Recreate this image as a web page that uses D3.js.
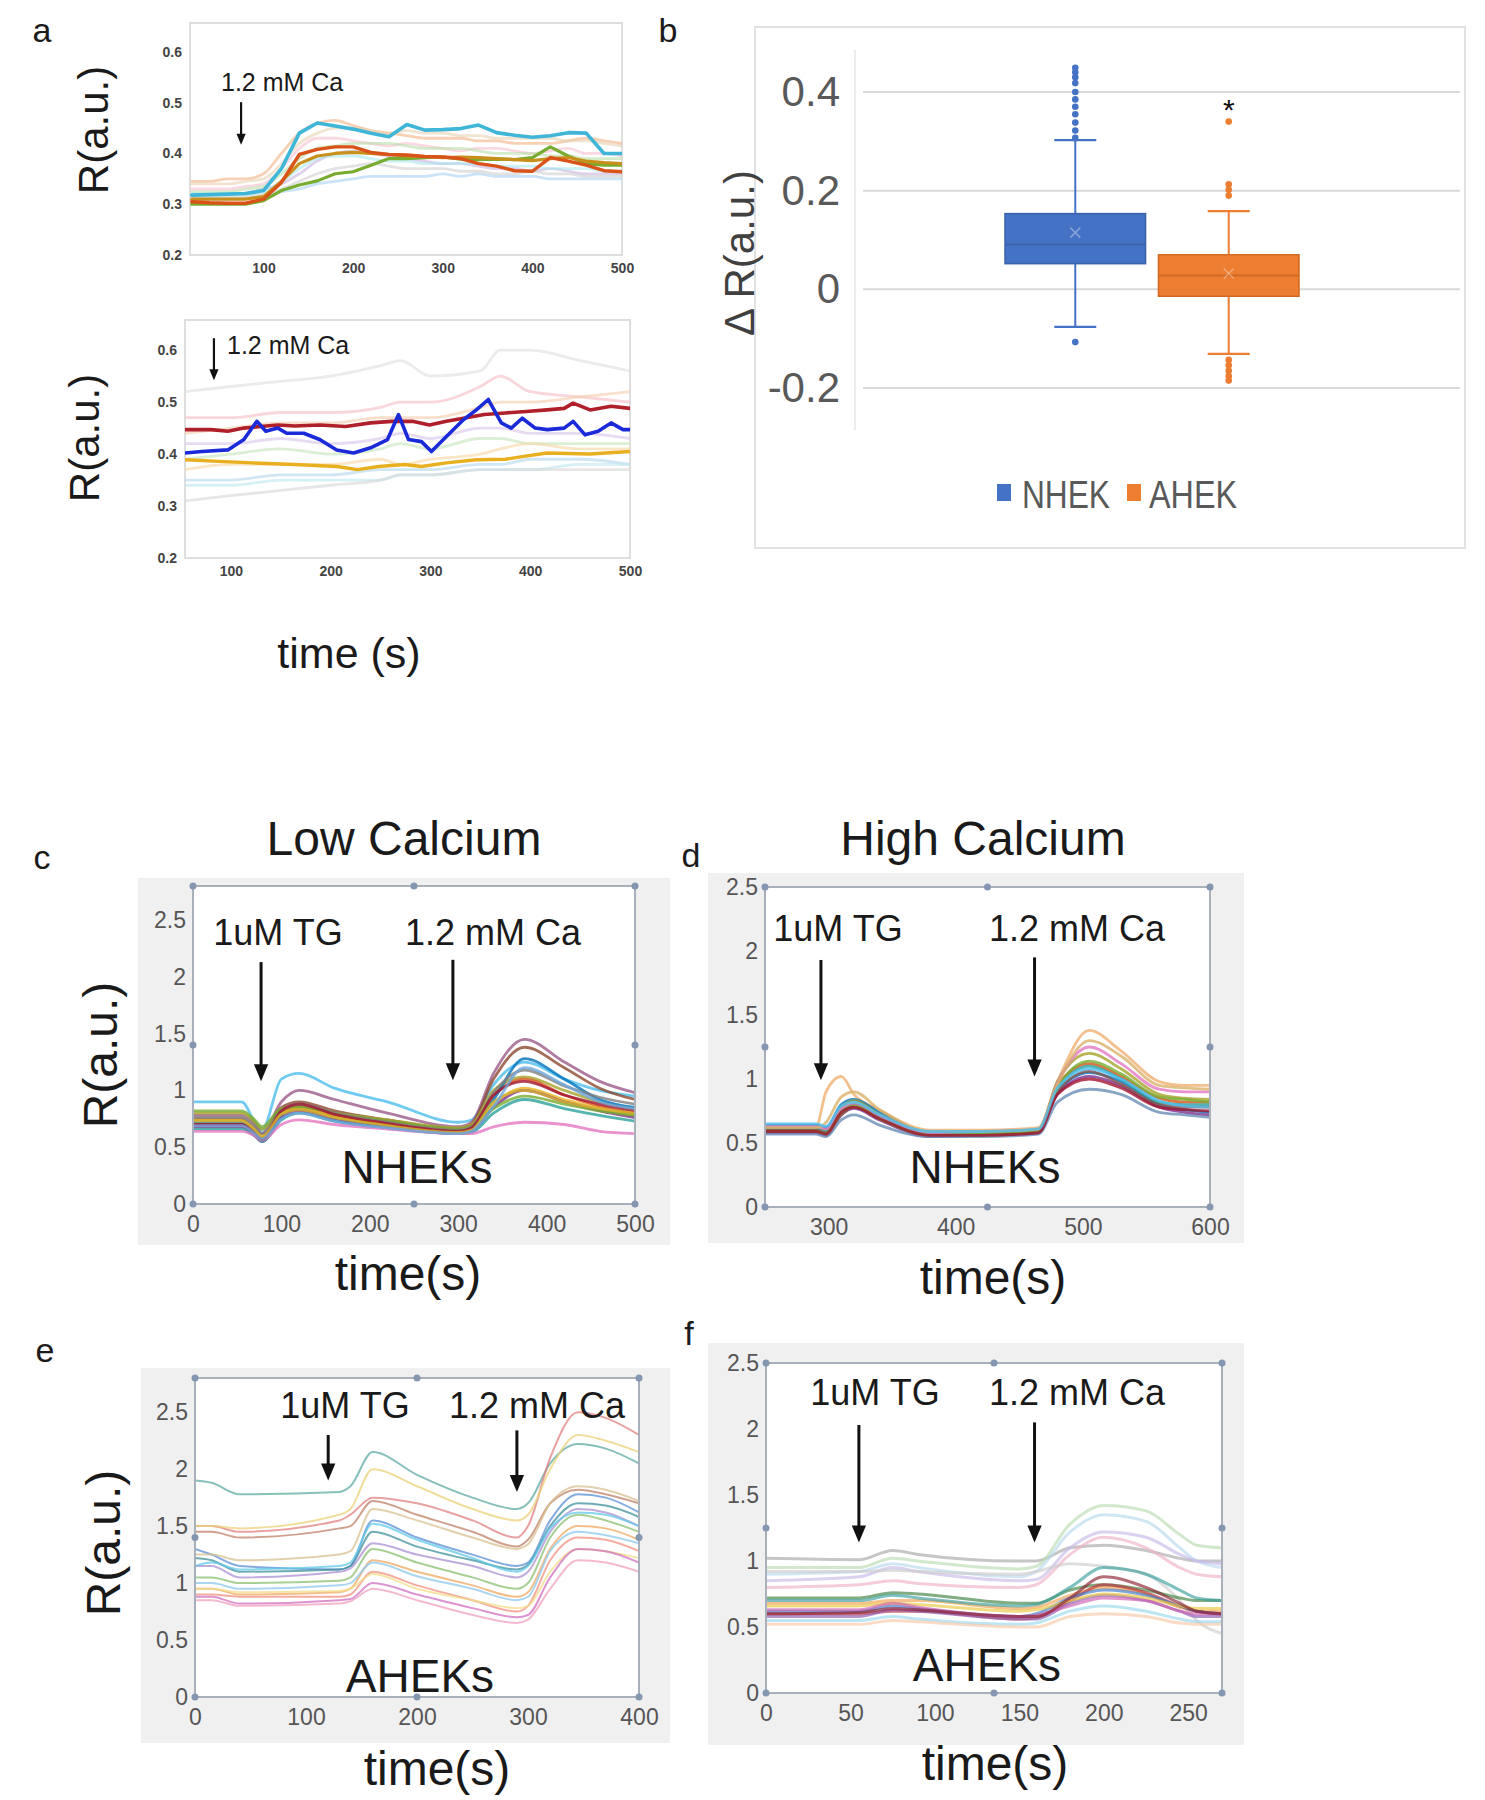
<!DOCTYPE html>
<html><head><meta charset="utf-8">
<script src="https://cdn.jsdelivr.net/npm/d3@7"></script>
<style>body{margin:0;background:#fff;} svg{display:block;}</style>
</head><body><svg id="fig" width="1485" height="1800"></svg>
<script>
// ================= DATA =================
// Panel a (top): NHEK traces, time grid
const aTopTime = [20,40,60,80,100,120,140,160,180,200,220,240,260,280,300,320,340,360,380,400,420,440,460,480,500];
const aTopCyan  = [.318,.319,.320,.321,.327,.37,.44,.46,.454,.448,.44,.433,.457,.446,.447,.449,.456,.441,.436,.432,.435,.441,.44,.40,.40];
const aTopRed   = [.305,.303,.302,.302,.31,.343,.398,.408,.413,.413,.402,.398,.397,.394,.393,.39,.38,.375,.366,.365,.392,.385,.377,.366,.364];
const aTopGreen = [.30,.30,.30,.30,.307,.327,.338,.346,.36,.364,.377,.39,.39,.392,.393,.389,.388,.389,.388,.392,.413,.395,.38,.377,.377];
const aTopBrown = [.31,.31,.31,.31,.315,.345,.38,.395,.40,.402,.40,.398,.395,.394,.392,.393,.392,.39,.388,.386,.39,.392,.385,.382,.38];
const aTopFaint1 = [.345,.345,.35,.35,.36,.40,.44,.46,.465,.455,.445,.44,.435,.43,.43,.43,.425,.425,.42,.42,.42,.425,.43,.425,.42];
const aTopFaint2 = [.33,.33,.33,.335,.34,.37,.41,.43,.43,.425,.42,.415,.42,.415,.41,.405,.41,.41,.405,.40,.405,.41,.40,.40,.395];
const aTopFaint3 = [.32,.32,.32,.322,.33,.34,.36,.385,.40,.405,.40,.395,.39,.385,.38,.38,.375,.37,.37,.365,.37,.365,.36,.36,.36];
const aTopFaint4 = [.31,.31,.31,.312,.315,.325,.33,.34,.345,.35,.355,.355,.355,.355,.36,.355,.36,.355,.355,.355,.35,.35,.35,.35,.35];
const aTopFaint5 = [.325,.325,.325,.33,.335,.36,.39,.41,.415,.42,.42,.42,.415,.41,.41,.41,.405,.40,.40,.40,.395,.395,.39,.39,.39];
const aTopFaint6 = [.34,.34,.34,.345,.35,.38,.42,.44,.45,.45,.445,.44,.445,.44,.44,.435,.435,.43,.43,.43,.43,.425,.425,.42,.415];
const aTopFaint7 = [.315,.315,.315,.315,.32,.33,.345,.36,.37,.375,.38,.375,.37,.37,.37,.365,.365,.36,.36,.365,.36,.36,.355,.355,.355];
const aTopFaint8 = [.32,.32,.32,.32,.325,.345,.37,.39,.395,.395,.39,.385,.385,.38,.38,.38,.38,.375,.375,.375,.37,.37,.37,.365,.365];
const aXTicks = [100,200,300,400,500];
const aYTicks = [0.2,0.3,0.4,0.5,0.6];

// Panel a (bottom): AHEK traces
const aBotBlueT = [54,71,97,113,126,135,147,156,173,189,206,223,240,257,268,278,291,301,316,333,346,358,371,381,392,405,417,434,443,455,468,481,493,500];
const aBotBlueV = [.402,.405,.408,.428,.463,.444,.45,.44,.44,.428,.408,.402,.412,.428,.476,.428,.424,.405,.434,.466,.485,.505,.46,.45,.469,.45,.447,.45,.463,.437,.444,.46,.447,.447];
const aBotRedT = [54,80,97,113,130,147,164,189,215,240,261,282,299,316,333,354,375,396,417,434,443,460,481,500];
const aBotRedV = [.447,.447,.444,.45,.453,.456,.454,.456,.453,.46,.463,.463,.456,.463,.469,.476,.479,.482,.485,.488,.498,.485,.492,.488];
const aBotYellowT = [54,88,122,164,206,227,248,274,291,316,346,375,392,417,460,500];
const aBotYellowV = [.389,.386,.383,.38,.376,.37,.376,.38,.376,.383,.389,.39,.395,.402,.40,.405];
const aBotTime = [54,100,150,200,250,270,300,350,370,400,450,500];
const aBotFaint1 = [.52,.53,.54,.55,.57,.58,.55,.56,.60,.60,.58,.56];
const aBotFaint2 = [.47,.47,.48,.48,.49,.50,.50,.53,.55,.52,.51,.50];
const aBotFaint3 = [.44,.45,.46,.46,.47,.47,.47,.49,.50,.50,.51,.52];
const aBotFaint4 = [.42,.42,.43,.42,.43,.44,.43,.45,.45,.44,.44,.43];
const aBotFaint5 = [.39,.40,.41,.40,.41,.42,.41,.43,.43,.42,.42,.42];
const aBotFaint6 = [.35,.35,.36,.36,.37,.37,.37,.38,.38,.39,.39,.38];
const aBotFaint7 = [.34,.34,.35,.35,.35,.36,.36,.37,.37,.37,.38,.38];
const aBotFaint8 = [.31,.32,.33,.34,.35,.36,.36,.37,.37,.37,.37,.37];
const aBotFaint9 = [.37,.38,.38,.38,.39,.38,.39,.40,.41,.42,.41,.41];

// Panel b: box plot of ΔR
const bCats = ["NHEK","AHEK"];
const bQ1 = [0.052, -0.014];
const bMedian = [0.091, 0.028];
const bQ3 = [0.1535, 0.070];
const bMean = [0.115, 0.032];
const bWhiskLow = [-0.076, -0.131];
const bWhiskHigh = [0.3025, 0.1585];
const bOutNHEK = [0.449,0.44,0.43,0.418,0.40,0.385,0.37,0.355,0.338,0.322,0.307,-0.107];
const bOutAHEK = [0.34,0.213,0.202,0.19,-0.143,-0.154,-0.165,-0.176,-0.185];
const bStarValue = 0.378;
const bTicks = [-0.2,0,0.2,0.4];

// Panel c: Low calcium NHEKs
const cTime = [0,55,70,78,100,120,160,220,300,315,340,375,420,460,500];
const cS1  = [.90,.90,.72,.65,1.10,1.15,1.02,.90,.72,.74,1.05,1.25,1.10,1.0,.95];
const cS2  = [.78,.78,.70,.62,.90,1.0,.92,.80,.68,.72,1.15,1.45,1.25,1.08,.98];
const cS3  = [.75,.75,.65,.58,.85,.90,.82,.74,.66,.70,1.10,1.38,1.20,1.02,.92];
const cS4  = [.80,.80,.72,.66,.80,.85,.80,.74,.67,.70,1.0,1.12,1.0,.90,.84];
const cS5  = [.70,.70,.62,.56,.80,.86,.78,.70,.64,.66,.95,1.10,.96,.86,.80];
const cS6  = [.72,.72,.64,.58,.78,.84,.76,.69,.63,.66,.92,1.28,1.10,.92,.85];
const cS7  = [.74,.74,.66,.60,.80,.84,.77,.70,.64,.66,.88,1.02,.92,.84,.78];
const cS8  = [.68,.68,.60,.55,.76,.82,.74,.68,.62,.64,.85,1.00,.90,.82,.76];
const cS9  = [.82,.82,.74,.68,.84,.86,.80,.73,.66,.68,.84,.95,.88,.82,.78];
const cS10 = [.66,.66,.60,.55,.74,.80,.73,.67,.62,.63,.80,.92,.84,.78,.73];
const cS11 = [.64,.64,.60,.56,.70,.74,.70,.66,.62,.62,.68,.72,.70,.64,.62];
const cS12 = [.76,.76,.68,.62,.82,.88,.80,.72,.65,.68,.98,1.18,1.04,.94,.88];
const cS13 = [.70,.70,.63,.57,.82,.88,.79,.71,.64,.67,.96,1.08,.96,.88,.82];
const cS14 = [.73,.73,.65,.59,.79,.83,.76,.69,.63,.65,.90,1.0,.90,.84,.80];
const cS15 = [.69,.69,.62,.57,.75,.80,.73,.67,.62,.64,.86,1.2,1.05,.90,.84];
const cXTicks = [0,100,200,300,400,500];
const cYTicks = [0,0.5,1,1.5,2,2.5];

// Panel d: High calcium NHEKs
const dTime = [250,290,298,310,320,340,380,420,465,480,505,530,560,580,600];
const dS1  = [.62,.62,.90,1.02,.88,.76,.60,.60,.62,.98,1.38,1.22,.98,.95,.95];
const dS2  = [.60,.60,.58,.74,.80,.70,.56,.57,.59,.95,1.12,1.02,.85,.82,.82];
const dS3  = [.64,.64,.62,.80,.84,.74,.58,.58,.60,.90,1.05,.98,.80,.76,.74];
const dS4  = [.62,.62,.60,.78,.83,.72,.58,.58,.60,.98,1.20,1.08,.88,.85,.84];
const dS5  = [.58,.58,.56,.72,.77,.68,.55,.56,.58,.88,1.02,.95,.78,.74,.72];
const dS6  = [.61,.61,.59,.75,.80,.70,.57,.57,.59,.92,1.10,1.0,.82,.80,.80];
const dS7  = [.60,.60,.58,.72,.78,.70,.56,.56,.58,.90,1.06,.96,.80,.78,.78];
const dS8  = [.63,.63,.61,.77,.80,.71,.58,.59,.60,.97,1.25,1.12,.92,.90,.90];
const dS9  = [.59,.59,.57,.74,.79,.69,.56,.57,.59,.93,1.14,1.04,.86,.84,.82];
const dS10 = [.57,.57,.55,.68,.72,.64,.55,.55,.57,.82,.92,.88,.74,.72,.70];
const dS11 = [.62,.62,.66,.86,.90,.76,.59,.59,.61,.96,1.30,1.18,.95,.93,.92];
const dS12 = [.59,.59,.57,.74,.78,.69,.56,.56,.58,.88,1.0,.93,.78,.76,.75];
const dS13 = [.65,.65,.63,.79,.82,.72,.59,.59,.61,.93,1.08,1.00,.83,.79,.78];
const dXTicks = [300,400,500,600];
const dYTicks = [0,0.5,1,1.5,2,2.5];

// Panel e: Low calcium AHEKs
const eTime = [0,15,40,130,140,160,200,250,290,300,320,345,370,400];
const eS1  = [1.90,1.88,1.78,1.80,1.85,2.15,1.95,1.75,1.65,1.70,2.05,2.22,2.18,2.05];
const eS2  = [1.50,1.50,1.45,1.55,1.60,1.75,1.70,1.55,1.40,1.50,2.10,2.50,2.45,2.30];
const eS3  = [1.50,1.50,1.48,1.60,1.65,2.00,1.85,1.65,1.55,1.60,2.00,2.30,2.25,2.15];
const eS4  = [1.45,1.45,1.40,1.48,1.50,1.72,1.60,1.45,1.32,1.38,1.70,1.82,1.78,1.70];
const eS5  = [1.30,1.25,1.15,1.12,1.15,1.55,1.40,1.25,1.15,1.18,1.55,1.78,1.75,1.62];
const eS6  = [1.22,1.20,1.10,1.12,1.15,1.45,1.32,1.20,1.12,1.16,1.50,1.70,1.68,1.58];
const eS7  = [1.15,1.15,1.05,1.10,1.13,1.35,1.25,1.15,1.05,1.10,1.45,1.65,1.62,1.50];
const eS8  = [1.05,1.05,1.00,1.02,1.05,1.30,1.18,1.05,.95,1.00,1.40,1.60,1.55,1.45];
const eS9  = [.95,.95,.90,.92,.95,1.20,1.10,.98,.88,.92,1.30,1.50,1.48,1.38];
const eS10 = [1.00,1.00,.95,.98,1.00,1.18,1.06,.95,.85,.88,1.28,1.45,1.42,1.35];
const eS11 = [.90,.90,.88,.88,.90,1.10,.98,.85,.75,.80,1.20,1.40,1.38,1.28];
const eS12 = [.95,.95,.92,.93,.95,1.08,.95,.85,.78,.80,1.10,1.30,1.28,1.22];
const eS13 = [.88,.88,.82,.85,.86,1.00,.90,.78,.70,.72,1.05,1.30,1.28,1.18];
const eS14 = [.85,.85,.80,.82,.84,.95,.85,.72,.65,.68,.95,1.20,1.18,1.10];
const eS15 = [1.15,1.18,1.12,1.15,1.18,1.52,1.38,1.22,1.10,1.15,1.48,1.62,1.60,1.50];
const eS16 = [1.25,1.25,1.20,1.25,1.28,1.65,1.55,1.40,1.30,1.34,1.70,1.85,1.82,1.72];
const eXTicks = [0,100,200,300,400];
const eYTicks = [0,0.5,1,1.5,2,2.5];

// Panel f: High calcium AHEKs
const fTime = [0,55,75,90,150,160,180,200,225,245,255,270];
const fS1  = [1.02,1.01,1.08,1.05,1.0,1.0,1.10,1.12,1.08,1.02,1.0,1.0];
const fS2  = [.95,.95,1.02,1.00,.94,.96,1.28,1.42,1.38,1.20,1.12,1.10];
const fS3  = [.90,.92,.98,.95,.88,.92,1.22,1.35,1.30,1.10,1.00,.95];
const fS4  = [.85,.88,.95,.92,.85,.86,1.10,1.22,1.18,1.05,1.00,.98];
const fS5  = [.80,.82,.85,.83,.80,.82,1.05,1.18,1.10,.95,.90,.88];
const fS6  = [.92,.92,.93,.92,.90,.92,.98,.96,.90,.70,.55,.45];
const fS7  = [.72,.72,.76,.75,.68,.68,.78,.82,.78,.72,.70,.70];
const fS8  = [.68,.68,.70,.70,.64,.65,.74,.80,.75,.65,.62,.62];
const fS9  = [.60,.60,.62,.62,.56,.57,.70,.82,.76,.66,.62,.60];
const fS10 = [.62,.62,.66,.64,.58,.60,.72,.78,.74,.66,.62,.60];
const fS11 = [.58,.58,.63,.62,.56,.56,.68,.74,.70,.62,.58,.58];
const fS12 = [.66,.66,.68,.67,.62,.63,.70,.75,.72,.66,.64,.64];
const fS13 = [.55,.55,.58,.56,.52,.53,.62,.66,.62,.56,.54,.54];
const fS14 = [.63,.63,.68,.65,.58,.59,.66,.72,.70,.62,.60,.60];
const fS15 = [.60,.61,.64,.63,.58,.58,.72,.88,.80,.68,.62,.60];
const fS16 = [.52,.52,.55,.54,.50,.50,.58,.60,.58,.53,.52,.52];
const fS17 = [.70,.70,.74,.72,.66,.67,.80,.95,.90,.78,.72,.70];
const fXTicks = [0,50,100,150,200,250];
const fYTicks = [0,0.5,1,1.5,2,2.5];

// ================= STYLE =================
const FONT = '"Liberation Sans", Arial, Helvetica, sans-serif';
const cColors = ["#4DBEEE","#9b5a8a","#8c4a2f","#a6a32a","#D95319","#0072BD","#EDB120","#7E2F8E","#77AC30","#2aa198","#e377c2","#7f7f7f","#A2142F","#d4b22a","#6fa8dc"];
const dColors = ["#f0b070","#D95319","#0072BD","#a6a32a","#7E2F8E","#2aa198","#8c564b","#e377c2","#77AC30","#6b8fb8","#d9b26a","#A2142F","#4DBEEE"];
const eColors = ["#5fa9a3","#e08080","#ecd27a","#c0806a","#5b8fd6","#3f8f9a","#a98fd0","#88c070","#f0a860","#8ec8ee","#f09080","#f2dc8a","#d070c0","#f0a0c0","#60c8e8","#d8c090"];
const fColors = ["#a8a8a8","#b8dcb0","#b8d8ee","#c8b8e8","#f0b0c8","#cccccc","#3f7f3f","#f0a050","#c0303a","#3c78c8","#8a5ab0","#e8c840","#9ad8f0","#d060b0","#8a2030","#f6c8a8","#3aa0a0"];

const svg = d3.select("#fig").attr("font-family", FONT);

function series(time, arrs, colors, w, op) {
  return arrs.map((v, i) => ({t: time, v: v, color: colors[i % colors.length], w: w, op: op}));
}
let clipCount = 0;
function drawLines(g, x, y, list, curve, clip) {
  const line = d3.line().x(d => x(d[0])).y(d => y(d[1])).curve(curve);
  const lg = g.append("g").attr("clip-path", `url(#${clip})`);
  list.forEach(s => {
    const pts = s.t.map((t, i) => [t, s.v[i]]);
    lg.append("path").attr("d", line(pts)).attr("fill", "none")
      .attr("stroke", s.color).attr("stroke-width", s.w).attr("stroke-opacity", s.op)
      .attr("stroke-linejoin", "round").attr("stroke-linecap", "round");
  });
}
function makeClip(L, T, R, B) {
  const id = "clip" + (clipCount++);
  svg.append("clipPath").attr("id", id).append("rect")
    .attr("x", L).attr("y", T).attr("width", R - L).attr("height", B - T);
  return id;
}
function arrow(g, x, y, t, vTop, vBot, sw, head) {
  const xp = x(t), yt = y(vTop), yb = y(vBot);
  g.append("line").attr("x1", xp).attr("x2", xp).attr("y1", yt).attr("y2", yb - head * 0.8)
    .attr("stroke", "#111").attr("stroke-width", sw);
  g.append("path").attr("d", `M${xp - head * 0.42},${yb - head} L${xp + head * 0.42},${yb - head} L${xp},${yb} Z`)
    .attr("fill", "#111");
}
function label(g, txt, x, y, size, opts = {}) {
  const t = g.append("text").attr("x", x).attr("y", y).attr("font-size", size)
    .attr("text-anchor", opts.anchor || "middle").attr("dy", opts.dy || "0.35em")
    .attr("fill", opts.fill || "#1a1a1a").text(txt);
  if (opts.rotate) t.attr("transform", `rotate(-90,${x},${y})`);
  if (opts.weight) t.attr("font-weight", opts.weight);
  return t;
}
const numFmt = d => (+d.toFixed(2)).toString();

// panel letters
[["a",42,30],["b",668,30],["c",42,857],["d",691,855],["e",45,1350],["f",689,1333]].forEach(p =>
  label(svg, p[0], p[1], p[2], 34));

// ================= PANEL a =================
function panelA(o) {
  const g = svg.append("g");
  const x = d3.scaleLinear().domain(o.xd).range([o.L, o.R]);
  const y = d3.scaleLinear().domain(o.yd).range([o.B, o.T]);
  g.append("rect").attr("x", o.L).attr("y", o.T).attr("width", o.R - o.L).attr("height", o.B - o.T)
    .attr("fill", "#fff").attr("stroke", "#dedede").attr("stroke-width", 2);
  const clip = makeClip(o.L, o.T, o.R, o.B);
  drawLines(g, x, y, o.faint, d3.curveMonotoneX, clip);
  drawLines(g, x, y, o.bold, d3.curveLinear, clip);
  const xa = g.append("g").attr("transform", `translate(0,${o.B})`)
    .call(d3.axisBottom(x).tickValues(aXTicks).tickSize(0).tickPadding(8));
  const ya = g.append("g").attr("transform", `translate(${o.L},0)`)
    .call(d3.axisLeft(y).tickValues(aYTicks).tickSize(0).tickPadding(8).tickFormat(d3.format(".1f")));
  [xa, ya].forEach(a => {
    a.select(".domain").remove();
    a.selectAll("text").attr("font-size", 14).attr("font-weight", "bold").attr("fill", "#444").attr("font-family", FONT);
  });
  label(g, "1.2 mM Ca", o.annX, o.annY, 25, {anchor: "start"});
  arrow(g, x, y, o.arT, o.arV1, o.arV2, 2.2, 11);
  label(g, "R(a.u.)", o.ylX, o.ylY, 42, {rotate: true});
}
const aTopFaintColors = ["#f4b183","#f8c0d0","#c9b3e0","#a9d0f5","#b8e0a8","#e6d2b0","#cfcfcf","#a8e6ef"];
panelA({
  L: 190, R: 622, T: 23, B: 255, xd: [18, 500], yd: [0.2, 0.657],
  faint: series(aTopTime, [aTopFaint1,aTopFaint2,aTopFaint3,aTopFaint4,aTopFaint5,aTopFaint6,aTopFaint7,aTopFaint8], aTopFaintColors, 2.8, 0.6),
  bold: [
    {t: aTopTime, v: aTopGreen, color: "#77AC30", w: 3.2, op: 1},
    {t: aTopTime, v: aTopBrown, color: "#c8901a", w: 3.2, op: 1},
    {t: aTopTime, v: aTopRed, color: "#D95319", w: 3.4, op: 1},
    {t: aTopTime, v: aTopCyan, color: "#3fb6d8", w: 3.6, op: 1}
  ],
  annX: 221, annY: 82, arT: 75, arV1: 0.501, arV2: 0.417, ylX: 93, ylY: 130
});
const aBotFaintColors = ["#e0e0e0","#f6c0c8","#f6d0b0","#d8c8ec","#c8e6c0","#b8d8f0","#c0e8f0","#d8d8d8","#f8d8a8"];
panelA({
  L: 185, R: 630, T: 320, B: 558, xd: [54, 500], yd: [0.2, 0.658],
  faint: series(aBotTime, [aBotFaint1,aBotFaint2,aBotFaint3,aBotFaint4,aBotFaint5,aBotFaint6,aBotFaint7,aBotFaint8,aBotFaint9], aBotFaintColors, 2.8, 0.65),
  bold: [
    {t: aBotYellowT, v: aBotYellowV, color: "#e8b020", w: 3.4, op: 1},
    {t: aBotRedT, v: aBotRedV, color: "#b0202a", w: 3.6, op: 1},
    {t: aBotBlueT, v: aBotBlueV, color: "#1a2ad8", w: 3.6, op: 1}
  ],
  annX: 227, annY: 345, arT: 83, arV1: 0.623, arV2: 0.542, ylX: 84, ylY: 438
});
label(svg, "time (s)", 349, 653, 43);

// ================= PANEL b =================
(function () {
  const g = svg.append("g");
  g.append("rect").attr("x", 755).attr("y", 27).attr("width", 710).attr("height", 521)
    .attr("fill", "#fff").attr("stroke", "#e2e2e2").attr("stroke-width", 2);
  const y = d3.scaleLinear().domain([-0.2, 0.4]).range([388, 92]);
  const x = d3.scaleBand().domain(bCats).range([1005, 1299]).paddingInner(0.084);
  const colors = ["#4472C4", "#ED7D31"];
  const medColors = ["#3a62aa", "#d06a22"];
  bTicks.forEach(t => g.append("line").attr("x1", 863).attr("x2", 1460).attr("y1", y(t)).attr("y2", y(t))
    .attr("stroke", "#d9d9d9").attr("stroke-width", 2));
  g.append("line").attr("x1", 855).attr("x2", 855).attr("y1", 50).attr("y2", 430).attr("stroke", "#ececec").attr("stroke-width", 2);
  const ya = g.append("g").attr("transform", "translate(840,0)")
    .call(d3.axisLeft(y).tickValues(bTicks).tickSize(0).tickPadding(0).tickFormat(d => d === 0 ? "0" : d.toFixed(1)));
  ya.select(".domain").remove();
  ya.selectAll("text").attr("font-size", 42).attr("fill", "#595959").attr("font-family", FONT);
  bCats.forEach((c, i) => {
    const x0 = x(c), bw = x.bandwidth(), cx = x0 + bw / 2, col = colors[i];
    [[bQ3[i], bWhiskHigh[i]], [bQ1[i], bWhiskLow[i]]].forEach(p => {
      g.append("line").attr("x1", cx).attr("x2", cx).attr("y1", y(p[0])).attr("y2", y(p[1])).attr("stroke", col).attr("stroke-width", 2);
      g.append("line").attr("x1", cx - 21).attr("x2", cx + 21).attr("y1", y(p[1])).attr("y2", y(p[1])).attr("stroke", col).attr("stroke-width", 2.2);
    });
    g.append("rect").attr("x", x0).attr("y", y(bQ3[i])).attr("width", bw).attr("height", y(bQ1[i]) - y(bQ3[i]))
      .attr("fill", col).attr("stroke", medColors[i]).attr("stroke-width", 1.5);
    g.append("line").attr("x1", x0).attr("x2", x0 + bw).attr("y1", y(bMedian[i])).attr("y2", y(bMedian[i]))
      .attr("stroke", medColors[i]).attr("stroke-width", 2);
    const my = y(bMean[i]);
    g.append("path").attr("d", `M${cx - 5},${my - 5}L${cx + 5},${my + 5}M${cx - 5},${my + 5}L${cx + 5},${my - 5}`)
      .attr("stroke", "rgba(255,255,255,0.35)").attr("stroke-width", 1.5);
    const outs = i === 0 ? bOutNHEK : bOutAHEK;
    outs.forEach(v => g.append("circle").attr("cx", cx).attr("cy", y(v)).attr("r", 3.3).attr("fill", col));
  });
  const sx = x("AHEK") + x.bandwidth() / 2;
  g.append("text").attr("x", sx).attr("y", y(bStarValue) + 17).attr("text-anchor", "middle")
    .attr("font-size", 30).attr("fill", "#111").text("*");
  label(g, "\u0394 R(a.u.)", 739, 253, 42, {rotate: true, fill: "#404040"});
  const leg = [{c: bCats[0], col: colors[0], sx: 997, tx: 1022}, {c: bCats[1], col: colors[1], sx: 1127, tx: 1149}];
  leg.forEach(l => {
    g.append("rect").attr("x", l.sx).attr("y", 484).attr("width", 14).attr("height", 17).attr("fill", l.col);
    g.append("text").attr("x", l.tx).attr("y", 508).attr("font-size", 38).attr("fill", "#595959")
      .attr("textLength", 88).attr("lengthAdjust", "spacingAndGlyphs").text(l.c);
  });
})();

// ================= PANELS c-f =================
function matlabPanel(o) {
  const g = svg.append("g");
  g.append("rect").attr("x", o.bg[0]).attr("y", o.bg[1]).attr("width", o.bg[2] - o.bg[0]).attr("height", o.bg[3] - o.bg[1])
    .attr("fill", "#f0f0f0");
  const x = d3.scaleLinear().domain(o.xd).range([o.L, o.R]);
  const y = d3.scaleLinear().domain(o.yd).range([o.B, o.T]);
  g.append("rect").attr("x", o.L).attr("y", o.T).attr("width", o.R - o.L).attr("height", o.B - o.T).attr("fill", "#fff");
  const clip = makeClip(o.L, o.T, o.R, o.B);
  drawLines(g, x, y, o.series, d3.curveMonotoneX, clip);
  g.append("rect").attr("x", o.L).attr("y", o.T).attr("width", o.R - o.L).attr("height", o.B - o.T)
    .attr("fill", "none").attr("stroke", "#a7b0bb").attr("stroke-width", 2);
  const mx = (o.L + o.R) / 2, my = (o.T + o.B) / 2;
  [[o.L, o.T], [mx, o.T], [o.R, o.T], [o.L, my], [o.R, my], [o.L, o.B], [mx, o.B], [o.R, o.B]].forEach(p =>
    g.append("circle").attr("cx", p[0]).attr("cy", p[1]).attr("r", 3.5).attr("fill", "#8496b0"));
  const xa = g.append("g").attr("transform", `translate(0,${o.B})`)
    .call(d3.axisBottom(x).tickValues(o.xt).tickSize(0).tickPadding(12));
  const ya = g.append("g").attr("transform", `translate(${o.L},0)`)
    .call(d3.axisLeft(y).tickValues(o.yt).tickSize(0).tickPadding(7).tickFormat(numFmt));
  [xa, ya].forEach(a => {
    a.select(".domain").remove();
    a.selectAll("text").attr("font-size", 23).attr("fill", "#555").attr("font-family", FONT);
  });
  label(g, "1uM TG", o.tgX, o.annY, 36);
  label(g, "1.2 mM Ca", o.caX, o.annY, 36);
  arrow(g, x, y, o.ar1[0], o.ar1[1], o.ar1[2], 3, 17);
  arrow(g, x, y, o.ar2[0], o.ar2[1], o.ar2[2], 3, 17);
  label(g, o.cell, o.cellX, o.cellY, 46);
  label(g, "time(s)", o.xlX, o.xlY, 48);
  if (o.ylabel) label(g, "R(a.u.)", o.ylX, o.ylY, 48, {rotate: true});
  if (o.title) label(g, o.title, o.titleX, o.titleY, 48);
}

matlabPanel({
  bg: [138, 878, 670, 1245], L: 193, R: 635, T: 886, B: 1204, xd: [0, 500], yd: [0, 2.8],
  xt: cXTicks, yt: cYTicks,
  series: series(cTime, [cS1,cS2,cS3,cS4,cS5,cS6,cS7,cS8,cS9,cS10,cS11,cS12,cS13,cS14,cS15], cColors, 2.8, 0.8),
  tgX: 278, caX: 493, annY: 932, ar1: [77, 2.13, 1.08], ar2: [294, 2.15, 1.09],
  cell: "NHEKs", cellX: 417, cellY: 1167, xlX: 408, xlY: 1273, ylabel: true, ylX: 100, ylY: 1055,
  title: "Low Calcium", titleX: 404, titleY: 838
});
matlabPanel({
  bg: [708, 873, 1244, 1243], L: 765, R: 1210, T: 887, B: 1207, xd: [250, 600], yd: [0, 2.5],
  xt: dXTicks, yt: dYTicks,
  series: series(dTime, [dS1,dS2,dS3,dS4,dS5,dS6,dS7,dS8,dS9,dS10,dS11,dS12,dS13], dColors, 2.8, 0.8),
  tgX: 838, caX: 1077, annY: 928, ar1: [294, 1.93, 0.99], ar2: [462, 1.95, 1.02],
  cell: "NHEKs", cellX: 985, cellY: 1167, xlX: 993, xlY: 1277, ylabel: false,
  title: "High Calcium", titleX: 983, titleY: 838
});
matlabPanel({
  bg: [141, 1368, 670, 1743], L: 195, R: 639, T: 1378, B: 1697, xd: [0, 400], yd: [0, 2.8],
  xt: eXTicks, yt: eYTicks,
  series: series(eTime, [eS1,eS2,eS3,eS4,eS5,eS6,eS7,eS8,eS9,eS10,eS11,eS12,eS13,eS14,eS15,eS16], eColors, 2, 0.75),
  tgX: 345, caX: 537, annY: 1405, ar1: [120, 2.30, 1.90], ar2: [290, 2.34, 1.80],
  cell: "AHEKs", cellX: 420, cellY: 1676, xlX: 437, xlY: 1768, ylabel: true, ylX: 103, ylY: 1543
});
matlabPanel({
  bg: [708, 1343, 1244, 1745], L: 766, R: 1222, T: 1363, B: 1693, xd: [0, 270], yd: [0, 2.5],
  xt: fXTicks, yt: fYTicks,
  series: series(fTime, [fS1,fS2,fS3,fS4,fS5,fS6,fS7,fS8,fS9,fS10,fS11,fS12,fS13,fS14,fS15,fS16,fS17], fColors, 3, 0.65),
  tgX: 875, caX: 1077, annY: 1392, ar1: [55, 2.03, 1.14], ar2: [159, 2.05, 1.14],
  cell: "AHEKs", cellX: 987, cellY: 1665, xlX: 995, xlY: 1763, ylabel: false
});
</script></body></html>
